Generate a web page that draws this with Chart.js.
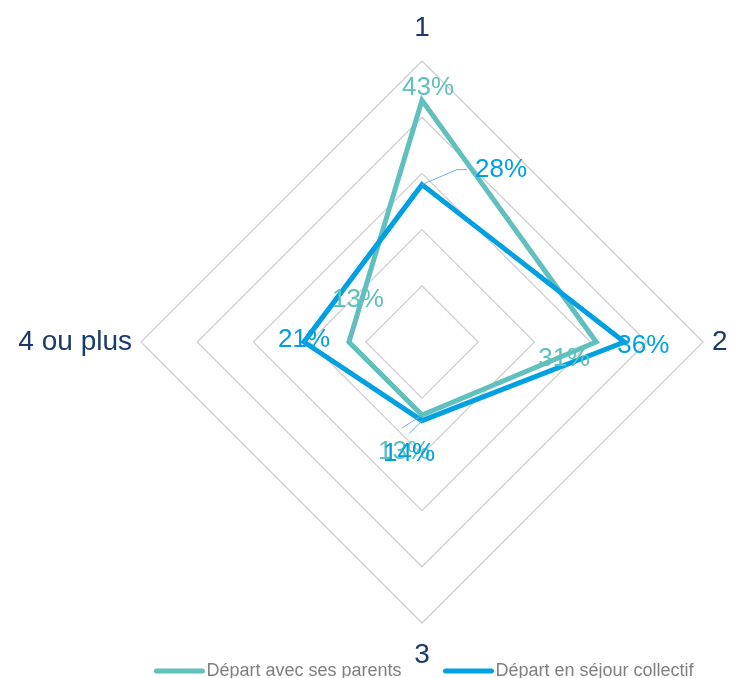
<!DOCTYPE html>
<html lang="fr">
<head>
<meta charset="utf-8">
<title>Radar</title>
<script src="https://cdn.jsdelivr.net/npm/chart.js@4/dist/chart.umd.min.js"></script>
<style>
    html, body { margin: 0; padding: 0; background: #fff; }
    #wrap { width: 731px; height: 678px; }
</style>
</head>
<body>
<div id="wrap"><canvas id="radarChart" width="731" height="678"></canvas></div>
<script>
// Données
const axisLabels = ['1', '2', '3', '4 ou plus'];
const seriesNames = ['Départ avec ses parents', 'Départ en séjour collectif'];
const parentsValues = [43, 31, 13, 13];
const collectifValues = [28, 36, 14, 21];
const ringTicks = [0, 10, 20, 30, 40, 50];

const TEAL = '#5FC0BD';
const BLUE = '#00A0E3';
const NAVY = '#1B3A6B';
const FONT = '"Liberation Sans", Arial, sans-serif';

// placement of the value labels, relative to each point (px)
const labelOffsets = [
    [[6, -13], [-32, 17], [-18, 37], [9, -42]],
    [[79, -15], [19, 4], [-13, 33], [0, -2]]
];
// leader lines: list of points relative to the label centre, or null
const leaders = [
    [null, null, [[-2, -24]], [[-1, 23]]],
    [[[-44, 0], [-34, 0]], null, [[0, -20]], null]
];

// axis labels drawn around the polygon
const axisLabelPlugin = {
    id: 'axisLabels',
    afterDraw(chart) {
        const scale = chart.scales.r;
        const ctx = chart.ctx;
        const extra = [25, 9, 40, 9];
        const align = ['center', 'left', 'center', 'right'];
        const dy = [0, 8, 0, 8];
        ctx.save();
        ctx.font = '28px ' + FONT;
        ctx.fillStyle = NAVY;
        ctx.textBaseline = 'alphabetic';
        axisLabels.forEach((txt, i) => {
            const p = scale.getPointPosition(i, scale.drawingArea + extra[i]);
            ctx.textAlign = align[i];
            ctx.fillText(txt, p.x, p.y + dy[i]);
        });
        ctx.restore();
    }
};

// value labels with % and the small leader lines
const valueLabelPlugin = {
    id: 'valueLabels',
    afterDatasetsDraw(chart) {
        const ctx = chart.ctx;
        ctx.save();
        ctx.font = '26px ' + FONT;
        ctx.textAlign = 'center';
        ctx.textBaseline = 'middle';
        chart.data.datasets.forEach((ds, di) => {
            const meta = chart.getDatasetMeta(di);
            meta.data.forEach((pt, i) => {
                const [ox, oy] = labelOffsets[di][i];
                const lx = pt.x + ox;
                const ly = pt.y + oy;
                const lead = leaders[di][i];
                if (lead) {
                    ctx.strokeStyle = '#74AAEE';
                    ctx.lineWidth = 1;
                    ctx.beginPath();
                    ctx.moveTo(pt.x, pt.y);
                    lead.forEach(([ax, ay]) => ctx.lineTo(lx + ax, ly + ay));
                    ctx.stroke();
                }
                ctx.fillStyle = ds.borderColor;
                ctx.fillText(ds.data[i] + '%', lx, ly);
            });
        });
        ctx.restore();
    }
};

// legend at the bottom, line swatches
const bottomLegendPlugin = {
    id: 'bottomLegend',
    afterDraw(chart) {
        const ctx = chart.ctx;
        const scale = chart.scales.r;
        const swatch = 50, gapText = 2, gapItem = 42;
        const y = 671;
        ctx.save();
        ctx.font = '18px ' + FONT;
        const items = chart.data.datasets.map(ds => ({
            text: ds.label, color: ds.borderColor, w: ctx.measureText(ds.label).width
        }));
        const total = items.reduce((s, it) => s + swatch + gapText + it.w, 0) + gapItem * (items.length - 1);
        let x = scale.xCenter - total / 2 + 2;
        items.forEach(it => {
            ctx.strokeStyle = it.color;
            ctx.lineWidth = 5;
            ctx.lineCap = 'round';
            ctx.beginPath();
            ctx.moveTo(x + 2, y);
            ctx.lineTo(x + swatch - 2, y);
            ctx.stroke();
            x += swatch + gapText;
            ctx.fillStyle = '#7F7F7F';
            ctx.textAlign = 'left';
            ctx.textBaseline = 'alphabetic';
            ctx.fillText(it.text, x, y + 5);
            x += it.w + gapItem;
        });
        ctx.restore();
    }
};

new Chart(document.getElementById('radarChart'), {
    type: 'radar',
    data: {
        labels: axisLabels,
        datasets: [
            {
                label: seriesNames[0],
                data: parentsValues,
                borderColor: TEAL,
                backgroundColor: 'transparent',
                borderWidth: 5,
                pointRadius: 0,
                order: 1
            },
            {
                label: seriesNames[1],
                data: collectifValues,
                borderColor: BLUE,
                backgroundColor: 'transparent',
                borderWidth: 5,
                pointRadius: 0,
                order: 0
            }
        ]
    },
    options: {
        responsive: false,
        animation: false,
        layout: { padding: { left: 141, right: 28, top: 61, bottom: 55 } },
        plugins: {
            legend: { display: false },
            tooltip: { enabled: false }
        },
        elements: { line: { tension: 0, borderJoinStyle: 'miter' } },
        scales: {
            r: {
                min: ringTicks[0],
                max: ringTicks[ringTicks.length - 1],
                ticks: { display: false, stepSize: ringTicks[1] - ringTicks[0] },
                grid: { circular: false, color: '#CFCFCF', lineWidth: 1.3 },
                angleLines: { display: false },
                pointLabels: { display: false }
            }
        }
    },
    plugins: [axisLabelPlugin, valueLabelPlugin, bottomLegendPlugin]
});
</script>
</body>
</html>
